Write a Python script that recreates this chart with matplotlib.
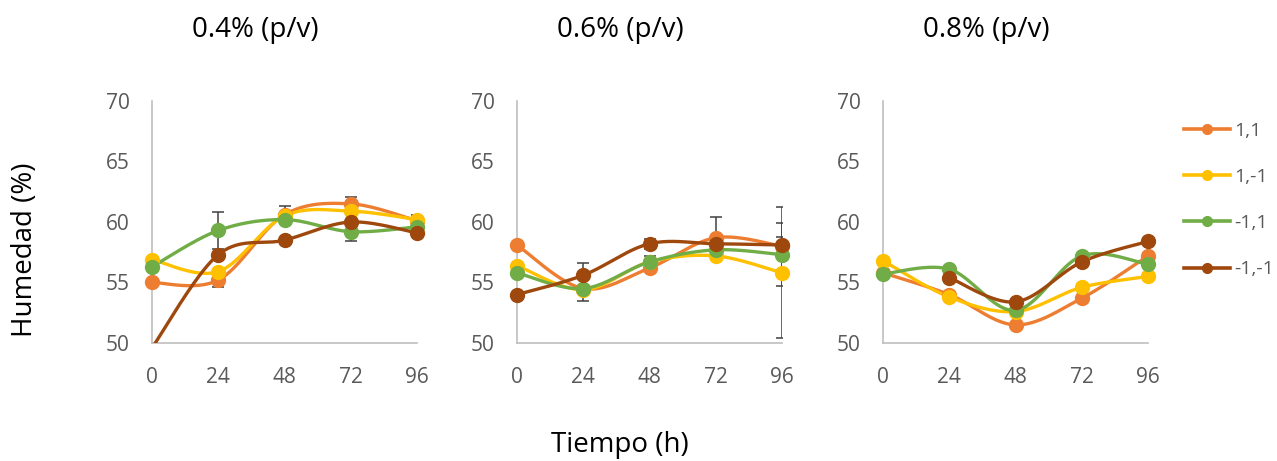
import numpy as np
import matplotlib
matplotlib.use("Agg")
import matplotlib.pyplot as plt
from matplotlib.lines import Line2D

# data
tiempo = [0, 24, 48, 72, 96]
titulos = ["0.4% (p/v)", "0.6% (p/v)", "0.8% (p/v)"]
series = ["1,1", "1,-1", "-1,1", "-1,-1"]
colores = ["#ED7D31", "#FFC000", "#70AD47", "#9E480E"]

# 0.4 %
h04_a = [55.0, 55.2, 60.6, 61.5, 60.1]
h04_b = [56.9, 55.9, 60.5, 60.9, 60.2]
h04_c = [56.3, 59.3, 60.2, 59.2, 59.6]
h04_d = [49.6, 57.3, 58.5, 60.0, 59.1]
e04_a = [0, 0.6, 0.7, 0.6, 0.5]
e04_c = [0, 1.5, 0, 0.8, 0]

# 0.6 %
h06_a = [58.1, 54.5, 56.2, 58.7, 58.0]
h06_b = [56.4, 54.4, 56.7, 57.2, 55.8]
h06_c = [55.8, 54.5, 56.7, 57.7, 57.3]
h06_d = [54.0, 55.6, 58.2, 58.2, 58.1]
e06_a = [0, 0, 0, 1.7, 0.8]
e06_b = [0, 0, 0, 0, 5.4]
e06_c = [0, 1.0, 0.5, 0, 2.6]
e06_d = [0, 1.0, 0.4, 0, 0]

# 0.8 %
h08_a = [55.8, 54.0, 51.5, 53.7, 57.2]
h08_b = [56.8, 53.8, 52.6, 54.6, 55.5]
h08_c = [55.7, 56.1, 52.7, 57.2, 56.5]
h08_d = [np.nan, 55.4, 53.4, 56.7, 58.4]

paneles = [
    [h04_a, h04_b, h04_c, h04_d],
    [h06_a, h06_b, h06_c, h06_d],
    [h08_a, h08_b, h08_c, h08_d],
]
errores = [
    [e04_a, None, e04_c, None],
    [e06_a, e06_b, e06_c, e06_d],
    [None, None, None, None],
]


def suavizar(x, y, n=40):
    # Excel-like smoothed line (Catmull-Rom as Bezier)
    x = np.asarray(x, float)
    y = np.asarray(y, float)
    ok = ~np.isnan(y)
    x, y = x[ok], y[ok]
    P = np.column_stack([x, y])
    out = []
    t = np.linspace(0, 1, n)[:, None]
    for i in range(len(P) - 1):
        p0 = P[i - 1] if i > 0 else P[i]
        p1, p2 = P[i], P[i + 1]
        p3 = P[i + 2] if i + 2 < len(P) else P[i + 1]
        c1 = p1 + (p2 - p0) / 6
        c2 = p2 - (p3 - p1) / 6
        seg = ((1 - t) ** 3) * p1 + 3 * ((1 - t) ** 2) * t * c1 + 3 * (1 - t) * t ** 2 * c2 + t ** 3 * p2
        out.append(seg)
    seg = np.vstack(out)
    return seg[:, 0], seg[:, 1]


plt.rcParams['font.family'] = ['Open Sans', 'DejaVu Sans']
gris = "#595959"

fig = plt.figure(figsize=(12.77, 4.61), dpi=100)
lefts = [152, 517, 883]
W, H = 1277, 461

for k, left in enumerate(lefts):
    ax = fig.add_axes([left / W, (461 - 343) / H, 265 / W, 242 / H])
    for s in range(4):
        yv = np.array(paneles[k][s], float)
        xs, ys = suavizar(tiempo, yv)
        ax.plot(xs, ys, color=colores[s], lw=2.4, zorder=3, solid_capstyle="round")
        err = errores[k][s]
        if err is not None:
            ax.errorbar(tiempo, yv, yerr=err, fmt="none", ecolor="#404040",
                        elinewidth=1.1, capsize=4.5, capthick=1.1, zorder=2)
        ym = np.where(yv >= 50, yv, np.nan)
        ax.plot(tiempo, ym, "o", color=colores[s], ms=10, zorder=4, clip_on=False)
    ax.set_xlim(0, 96)
    ax.set_ylim(50, 70)
    ax.set_xticks(tiempo)
    ax.set_yticks([50, 55, 60, 65, 70])
    ax.tick_params(length=0, labelsize=15, labelcolor=gris)
    ax.tick_params(axis="x", pad=17)
    ax.tick_params(axis="y", pad=16)
    for sp in ["top", "right"]:
        ax.spines[sp].set_visible(False)
    for sp in ["left", "bottom"]:
        ax.spines[sp].set_color("#BFBFBF")
        ax.spines[sp].set_linewidth(1.2)
    fig.text((left - 30 + 133) / W, 1 - 30 / H, titulos[k], ha="center", va="center",
             fontsize=20, color="black")

fig.text(25 / W, 1 - 250 / H, "Humedad (%)", rotation=90, ha="center", va="center",
         fontsize=20, color="black")
fig.text(620 / W, 1 - 445 / H, "Tiempo (h)", ha="center", va="center",
         fontsize=20, color="black")

handles = [Line2D([0], [0], color=c, lw=2.6, marker="o", ms=7) for c in colores]
fig.legend(handles, series, loc="upper left", bbox_to_anchor=(1176 / W, 1 - 114 / H),
           frameon=False, fontsize=14, labelcolor=gris, handlelength=2.4,
           handletextpad=0.2, labelspacing=1.45, borderaxespad=0)

fig.savefig("out.png", dpi=100)
